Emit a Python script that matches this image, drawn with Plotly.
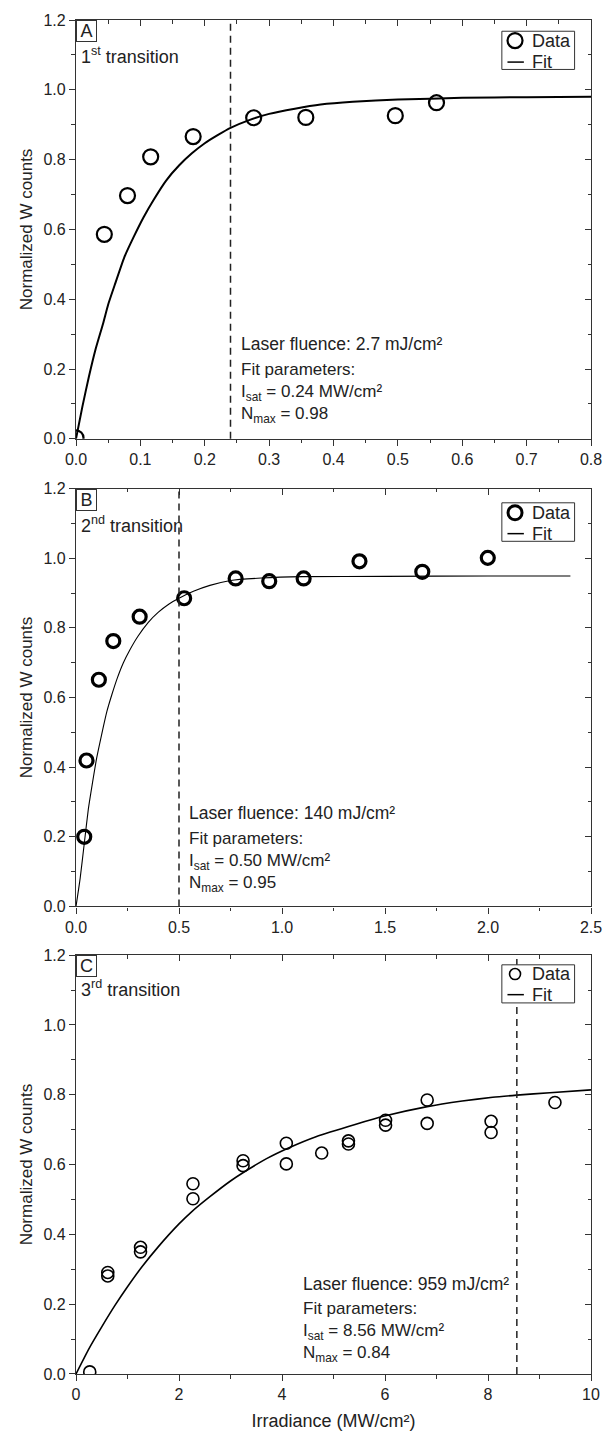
import plotly.graph_objects as go

# ---------------- data ----------------
A_x = [0.0, 0.044, 0.080, 0.116, 0.182, 0.276, 0.357, 0.496, 0.560]
A_y = [0.003, 0.586, 0.697, 0.808, 0.866, 0.920, 0.921, 0.926, 0.963]
A_fit_x = [0, 0.01, 0.02, 0.03, 0.042, 0.05, 0.06, 0.075, 0.09, 0.105, 0.12, 0.14, 0.16, 0.18, 0.2,
           0.22, 0.24, 0.27, 0.3, 0.34, 0.38, 0.43, 0.5, 0.6, 0.7, 0.8]
A_fit_y = [0, 0.093, 0.178, 0.254, 0.33, 0.385, 0.44, 0.52, 0.58, 0.635, 0.683, 0.74, 0.783, 0.818, 0.847,
           0.870, 0.891, 0.914, 0.931, 0.946, 0.958, 0.966, 0.972, 0.977, 0.979, 0.98]
A_isat = 0.24

B_x = [0.040, 0.051, 0.111, 0.181, 0.309, 0.525, 0.775, 0.938, 1.105, 1.376, 1.681, 1.999]
B_y = [0.200, 0.419, 0.651, 0.762, 0.832, 0.885, 0.942, 0.934, 0.942, 0.991, 0.961, 1.001]
B_fit_x = [0, 0.02, 0.04, 0.06, 0.08, 0.1, 0.125, 0.15, 0.175, 0.2, 0.23, 0.26, 0.3, 0.35, 0.4, 0.45,
           0.5, 0.57, 0.65, 0.75, 0.9, 1.1, 1.5, 2.0, 2.4]
B_fit_y = [0, 0.08, 0.18, 0.28, 0.355, 0.425, 0.495, 0.56, 0.61, 0.655, 0.70, 0.735, 0.775, 0.815, 0.845,
           0.868, 0.885, 0.905, 0.922, 0.936, 0.943, 0.947, 0.948, 0.949, 0.949]
B_isat = 0.50

C_x = [0.267, 0.617, 0.617, 1.253, 1.253, 2.271, 2.271, 3.244, 3.244, 4.084, 4.084, 4.771,
       5.29, 5.29, 6.011, 6.011, 6.819, 6.819, 8.06, 8.06, 9.30]
C_y = [0.006, 0.291, 0.281, 0.363, 0.350, 0.545, 0.502, 0.611, 0.597, 0.661, 0.602, 0.633,
       0.668, 0.659, 0.727, 0.713, 0.785, 0.718, 0.724, 0.692, 0.778]
C_fit_x = [0, 0.25, 0.5, 0.75, 1.0, 1.285, 1.6, 2.0, 2.239, 2.6, 3.0, 3.257, 3.7, 4.147, 4.66, 5.42,
           5.99, 6.82, 7.5, 8.09, 8.56, 9.2, 10]
C_fit_y = [0, 0.072, 0.135, 0.195, 0.25, 0.308, 0.365, 0.43, 0.464, 0.508, 0.553, 0.578, 0.617, 0.649, 0.68,
           0.715, 0.739, 0.766, 0.782, 0.793, 0.799, 0.806, 0.814]
C_isat = 8.56

panel_letters = ["A", "B", "C"]
transitions = ["1<sup>st</sup> transition", "2<sup>nd</sup> transition", "3<sup>rd</sup> transition"]
fluences = ["Laser fluence: 2.7 mJ/cm²", "Laser fluence: 140 mJ/cm²", "Laser fluence: 959 mJ/cm²"]
isat_labels = ["0.24", "0.50", "8.56"]
nmax_labels = ["0.98", "0.95", "0.84"]
x_ranges = [[0, 0.8], [0, 2.5], [0, 10]]
x_dticks = [0.1, 0.5, 2]
x_minor = [0.05, 0.25, 1]
x_formats = [".1f", ".1f", "d"]

FONT = "Arial, Liberation Sans, sans-serif"
INK = "#222"
AX = "#333"
TXT = 18
TICK = 16

fig = go.Figure()

panels = [
    (A_x, A_y, A_fit_x, A_fit_y, A_isat, 15, 2.2, 2.0),
    (B_x, B_y, B_fit_x, B_fit_y, B_isat, 13, 3.2, 1.1),
    (C_x, C_y, C_fit_x, C_fit_y, C_isat, 12, 1.6, 1.6),
]

W, H = 614, 1440
ml, mr, mt, mb = 76, 14, 17, 62
ph = H - mt - mb
tops = [17, 488, 957]
bots = [438, 908, 1378]
domains = [[(1378 - b) / ph, (1378 - t) / ph] for t, b in zip(tops, bots)]

leg_box = [(11.3, 49.7), (14.3, 53.0), (9.7, 48.0)]
leg_data = [20.7, 24.3, 19.0]
leg_fit = [42.3, 45.3, 39.7]
leg_circle = [7.5, 7.0, 5.5]
leg_cw = [2.2, 3.0, 1.6]

txt_x_px = [241.7, 189.3, 305.0]
txt_y_px = [(343, 391.5), (814, 863.0), (1287.3, 1336.0)]


def px_to_xdom(px):
    return (px - 76) / 524.0


for i, (px, py, fx, fy, isat, msize, mlw, lw) in enumerate(panels):
    n = i + 1
    xa = "x" if n == 1 else f"x{n}"
    ya = "y" if n == 1 else f"y{n}"
    xo = f"x{n + 3}"
    yo = f"y{n + 3}"
    fig.add_trace(go.Scatter(x=fx, y=fy, mode="lines", line=dict(color="black", width=lw, shape="spline", smoothing=0.5),
                             xaxis=xa, yaxis=ya, showlegend=False, hoverinfo="skip"))
    marker = dict(symbol="circle-open", color="black", size=msize, line=dict(color="black", width=mlw))
    fig.add_trace(go.Scatter(x=px, y=py, mode="markers", marker=marker, xaxis=xa, yaxis=ya,
                             showlegend=False, cliponaxis=True))
    fig.add_trace(go.Scatter(x=[], y=[], xaxis=xo, yaxis=yo, showlegend=False))

    common = dict(showline=True, linecolor=AX, linewidth=1.3, showgrid=False, zeroline=False,
                  tickcolor=AX, tickwidth=1.2, tickfont=dict(family=FONT, size=TICK, color=INK))
    xkey = "xaxis" if n == 1 else f"xaxis{n}"
    ykey = "yaxis" if n == 1 else f"yaxis{n}"
    fig.layout[xkey] = dict(common, domain=[0, 1], anchor=ya, range=x_ranges[i], dtick=x_dticks[i], tick0=0,
                            tickformat=x_formats[i], ticks="outside", ticklen=6, mirror=True,
                            minor=dict(ticks="outside", ticklen=3.5, dtick=x_minor[i], tick0=0, tickcolor=AX, tickwidth=1.2))
    fig.layout[ykey] = dict(common, domain=domains[i], anchor=xa, range=[0, 1.2], dtick=0.2, tick0=0,
                            tickformat=".1f", ticks="outside", ticklen=6, mirror=True,
                            minor=dict(ticks="outside", ticklen=3.5, dtick=0.1, tick0=0, tickcolor=AX, tickwidth=1.2),
                            title=dict(text="Normalized W counts", font=dict(family=FONT, size=TXT - 1, color=INK), standoff=6))
    fig.layout[f"xaxis{n + 3}"] = dict(overlaying=xa, anchor=ya, side="top", range=x_ranges[i], dtick=x_dticks[i], tick0=0,
                                       showticklabels=False, ticks="inside", ticklen=6, tickcolor=AX, tickwidth=1.2,
                                       showline=False, showgrid=False, zeroline=False,
                                       minor=dict(ticks="inside", ticklen=3.5, dtick=x_minor[i], tick0=0, tickcolor=AX, tickwidth=1.2))
    fig.layout[f"yaxis{n + 3}"] = dict(overlaying=ya, anchor=xa, side="right", range=[0, 1.2], dtick=0.2, tick0=0,
                                       showticklabels=False, ticks="inside", ticklen=6, tickcolor=AX, tickwidth=1.2,
                                       showline=False, showgrid=False, zeroline=False,
                                       minor=dict(ticks="inside", ticklen=3.5, dtick=0.1, tick0=0, tickcolor=AX, tickwidth=1.2))

    fig.add_shape(type="line", xref=xa, yref=f"{ya} domain", x0=isat, x1=isat, y0=0, y1=1,
                  line=dict(color="#222", width=1.5, dash="7px,5px"), layer="above")

    xd = f"{xa} domain"
    yd = f"{ya} domain"
    hgt = bots[i] - tops[i]
    fig.add_annotation(xref=xd, yref=yd, x=0, y=1, xanchor="left", yanchor="top", text=panel_letters[i],
                       showarrow=False, font=dict(family=FONT, size=TXT, color=INK), width=19, height=20,
                       borderwidth=1, bordercolor=AX, borderpad=0, bgcolor="white")
    fig.add_annotation(xref=xd, yref=yd, x=px_to_xdom(79), y=1 - (36.0 if i != 2 else 34.0) / hgt,
                       xanchor="left", yanchor="middle", text=transitions[i], showarrow=False,
                       font=dict(family=FONT, size=TXT, color=INK))
    b0, b1 = leg_box[i]
    fig.add_shape(type="rect", xref=xd, yref=yd, x0=px_to_xdom(509.3), x1=px_to_xdom(583.3),
                  y0=1 - b1 / hgt, y1=1 - b0 / hgt, line=dict(color=AX, width=1), fillcolor="white", layer="above")
    cr = leg_circle[i]
    fig.add_shape(type="circle", xref=xd, yref=yd, xsizemode="pixel", ysizemode="pixel",
                  xanchor=px_to_xdom(522.7), yanchor=1 - leg_data[i] / hgt, x0=-cr, x1=cr, y0=-cr, y1=cr,
                  line=dict(color="black", width=leg_cw[i]), layer="above")
    fig.add_shape(type="line", xref=xd, yref=yd, x0=px_to_xdom(515), x1=px_to_xdom(531.7),
                  y0=1 - leg_fit[i] / hgt, y1=1 - leg_fit[i] / hgt, line=dict(color="black", width=1.5), layer="above")
    fig.add_annotation(xref=xd, yref=yd, x=px_to_xdom(538), y=1 - leg_data[i] / hgt, xanchor="left", yanchor="middle",
                       text="Data", showarrow=False, font=dict(family=FONT, size=TXT, color=INK))
    fig.add_annotation(xref=xd, yref=yd, x=px_to_xdom(538), y=1 - leg_fit[i] / hgt, xanchor="left", yanchor="middle",
                       text="Fit", showarrow=False, font=dict(family=FONT, size=TXT, color=INK))

    fig.add_annotation(xref=xd, yref=yd, x=px_to_xdom(txt_x_px[i]), y=(bots[i] - txt_y_px[i][0]) / hgt,
                       xanchor="left", yanchor="middle", text=fluences[i], showarrow=False,
                       font=dict(family=FONT, size=17.5, color=INK))
    block = ("Fit parameters:<br>"
             f"I<sub>sat</sub> = {isat_labels[i]} MW/cm²<br>"
             f"N<sub>max</sub> = {nmax_labels[i]}")
    fig.add_annotation(xref=xd, yref=yd, x=px_to_xdom(txt_x_px[i]), y=(bots[i] - txt_y_px[i][1]) / hgt,
                       xanchor="left", yanchor="middle", align="left", text=block, showarrow=False,
                       font=dict(family=FONT, size=17, color=INK))

fig.layout["xaxis3"]["title"] = dict(text="Irradiance (MW/cm²)", font=dict(family=FONT, size=TXT, color=INK),
                                     standoff=12)

fig.update_layout(width=W, height=H, margin=dict(l=ml, r=mr, t=mt, b=mb), paper_bgcolor="white",
                  plot_bgcolor="white", showlegend=False, font=dict(family=FONT, size=TICK, color=INK))

fig.write_html("out.html")
